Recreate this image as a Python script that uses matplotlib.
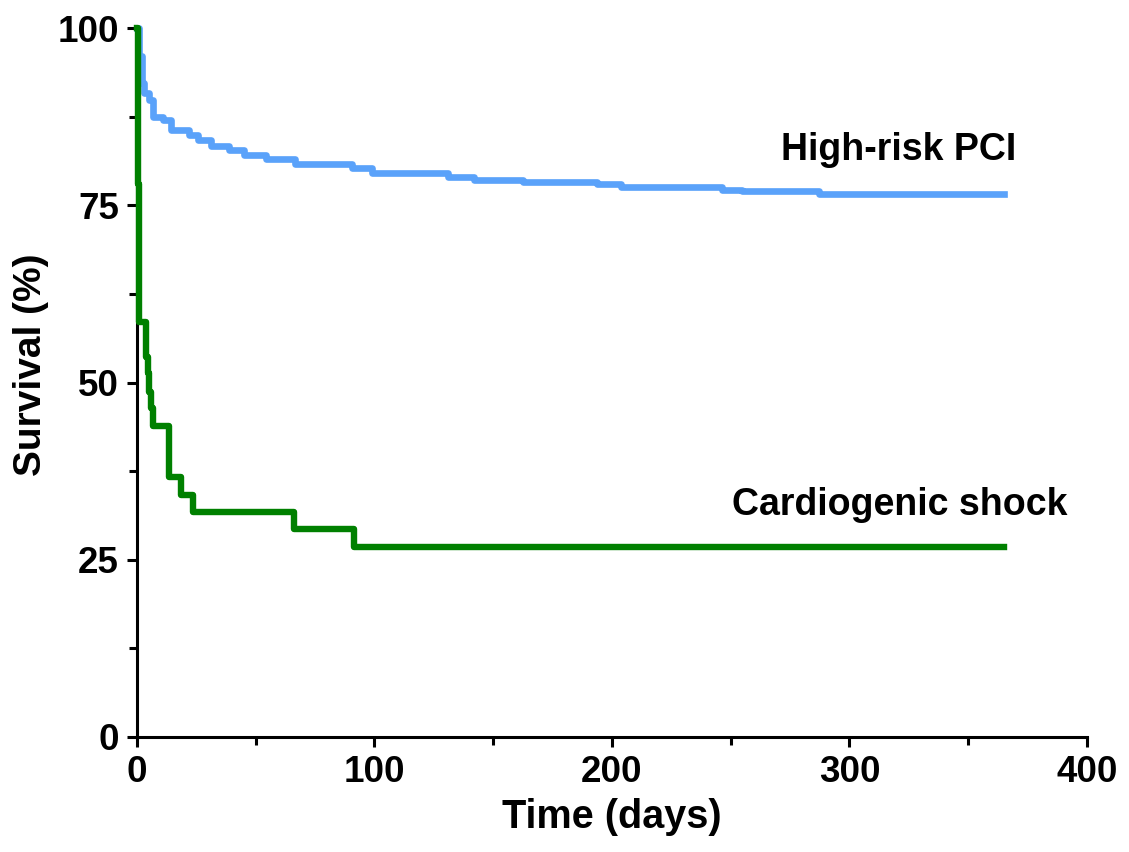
import matplotlib.pyplot as plt
from matplotlib.ticker import MultipleLocator

# Kaplan-Meier style step data
pci_days = [0, 1, 2.2, 3.1, 5.2, 6.6, 10.8, 14.3, 22, 25.5, 31.1, 38.8, 45, 54.2,
            66.7, 90.5, 99, 131, 142, 162.7, 193.7, 204, 246.5, 254.6, 287, 365]
pci_surv = [100, 96, 92.2, 90.8, 89.8, 87.5, 87.0, 85.6, 84.9, 84.2, 83.3, 82.8, 82.1, 81.6,
            80.8, 80.2, 79.5, 79.0, 78.6, 78.3, 78.0, 77.6, 77.2, 77.0, 76.6, 76.6]

shock_days = [0, 0.5, 1.0, 3.8, 4.5, 5.2, 6.0, 6.6, 13.6, 18.5, 23.7, 66, 91.2, 365]
shock_surv = [100, 78, 58.6, 53.6, 51.3, 48.7, 46.4, 43.9, 36.7, 34.1, 31.7, 29.3, 26.8, 26.8]

xticks = [0, 100, 200, 300, 400]
yticks = [0, 25, 50, 75, 100]

plt.rcParams['font.family'] = ['Liberation Sans', 'DejaVu Sans']
plt.rcParams['font.weight'] = 'bold'

fig = plt.figure(figsize=(11.29, 8.52), dpi=100)
ax = fig.add_axes([0.1213, 0.135, 0.8415, 0.832])

ax.step(pci_days, pci_surv, where='post', color='#5aa2fa', lw=4.8, clip_on=False, zorder=2)
ax.step(shock_days, shock_surv, where='post', color='#008000', lw=4.6, clip_on=False, zorder=3)

ax.text(320.5, 81.4, 'High-risk PCI', fontsize=27, fontweight='bold', ha='center', va='baseline')
ax.text(321, 31.3, 'Cardiogenic shock', fontsize=27, fontweight='bold', ha='center', va='baseline')

ax.set_xlim(0, 400)
ax.set_ylim(0, 100)
ax.set_xticks(xticks)
ax.set_yticks(yticks)
ax.xaxis.set_minor_locator(MultipleLocator(50))
ax.yaxis.set_minor_locator(MultipleLocator(12.5))

for s in ['top', 'right']:
    ax.spines[s].set_visible(False)
for s in ['left', 'bottom']:
    ax.spines[s].set_linewidth(2.2)

ax.tick_params(which='major', direction='out', length=7, width=2.2, labelsize=26.5, pad=6)
ax.tick_params(which='minor', direction='out', length=6, width=2.2)

ax.set_xlabel('Time (days)', fontsize=28.5, fontweight='bold', labelpad=6)
ax.set_ylabel('Survival (%)', fontsize=28, fontweight='bold')
ax.yaxis.set_label_coords(-0.093, 0.525)

fig.savefig('out.png', dpi=100)
